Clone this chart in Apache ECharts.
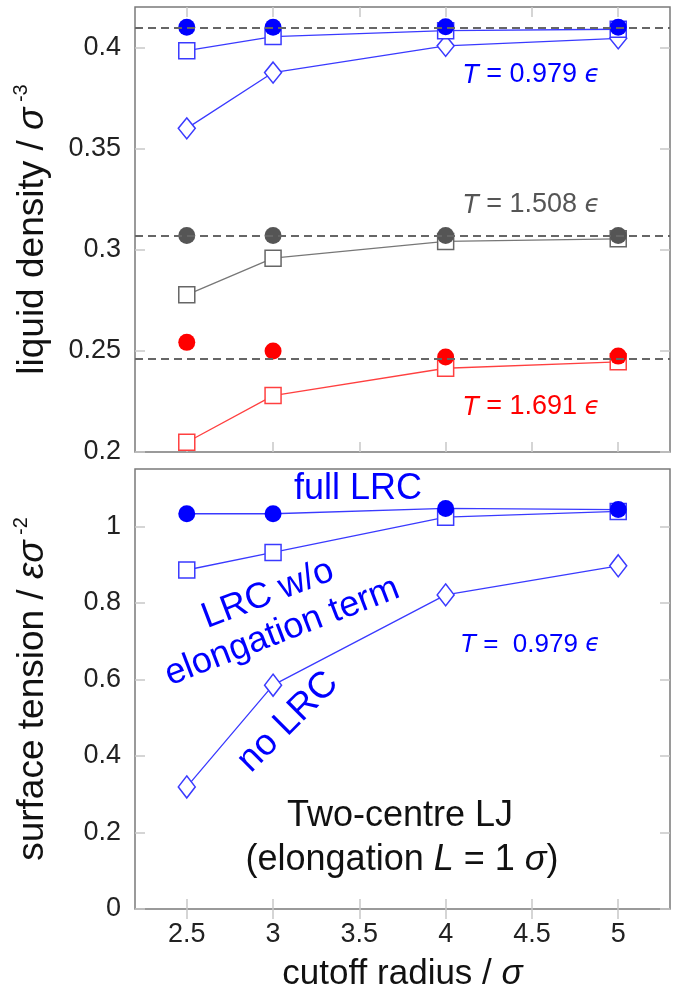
<!DOCTYPE html>
<html>
<head>
<meta charset="utf-8">
<script src="https://cdn.jsdelivr.net/npm/echarts@6/dist/echarts.min.js"></script>
<style>
html,body{margin:0;padding:0;background:#fff;}
#chart{width:673px;height:993px;}
</style>
</head>
<body>
<div id="chart"></div>
<script>
// ---- data ----
var cutoff = [2.5, 3, 4, 5];
var xTicks = [2.5, 3, 3.5, 4, 4.5, 5];
var densTicks = [0.2, 0.25, 0.3, 0.35, 0.4];
var stTicks = [0, 0.2, 0.4, 0.6, 0.8, 1];

// liquid density, T = 0.979
var densFull0979 = [0.410, 0.410, 0.4102, 0.4100];
var densNoElong0979 = [0.3984, 0.4054, 0.4083, 0.4090];
var densNoLRC0979 = [0.3600, 0.3876, 0.4008, 0.4045];
// T = 1.508
var densFull1508 = [0.307, 0.307, 0.307, 0.307];
var densNoElong1508 = [0.2777, 0.2958, 0.3041, 0.3054];
// T = 1.691
var densFull1691 = [0.2542, 0.2499, 0.2470, 0.2474];
var densNoElong1691 = [0.2048, 0.2279, 0.2414, 0.2446];
// reference (dashed) densities
var refDens = [0.4099, 0.3070, 0.2462];

// surface tension, T = 0.979
var stFull = [1.033, 1.033, 1.047, 1.044];
var stNoElong = [0.886, 0.932, 1.024, 1.039];
var stNoLRC = [0.319, 0.585, 0.821, 0.897];

function pairs(xs, ys){ return xs.map(function(x,i){ return [x, ys[i]]; }); }

var FONT = '"Liberation Sans", Arial, "DejaVu Sans", sans-serif';
var BLUE = '#0000ff', BLUE_L = '#3a3aff';
var GRAY = '#555555', GRAY_L = '#777777';
var RED = '#ff0000', RED_L = '#ff4040';

var tickStyle = {show:true, inside:true, length:10, lineStyle:{color:'#c8c8c8', width:1.5}};

function xAxisDef(grid, pos, showLabels, name){
  var a = {
    type:'value', gridIndex:grid, position:pos, min:2.2, max:5.3,
    axisLine:{show:false}, splitLine:{show:false},
    axisTick:Object.assign({customValues:xTicks}, tickStyle),
    axisLabel:{show:showLabels, customValues:xTicks, fontSize:27, color:'#222', margin:12, fontFamily:FONT}
  };
  if(name){
    a.name = name; a.nameLocation='middle'; a.nameGap = 48;
    a.nameTextStyle = {fontSize:35, color:'#111', fontFamily:FONT,
      rich:{n:{fontSize:35, fontFamily:FONT, color:'#111'}, i:{fontSize:35, fontStyle:'italic', fontFamily:FONT, color:'#111'}}};
  }
  return a;
}
function yAxisDef(grid, pos, min, max, ticks, showLabels, name, rich){
  var a = {
    type:'value', gridIndex:grid, position:pos, min:min, max:max,
    axisLine:{show:false}, splitLine:{show:false},
    axisTick:Object.assign({customValues:ticks}, tickStyle),
    axisLabel:{show:showLabels, customValues:ticks, fontSize:27, color:'#222', margin:14, fontFamily:FONT}
  };
  if(name){
    a.name = name; a.nameLocation='middle'; a.nameGap = 80;
    a.nameTextStyle = {fontSize:37, color:'#111', fontFamily:FONT, rich:rich};
  }
  return a;
}
var titleRich = {
  n:{fontSize:37, fontFamily:FONT, color:'#111', lineHeight:44},
  i:{fontSize:37, fontStyle:'italic', fontFamily:FONT, color:'#111', lineHeight:44},
  p:{fontSize:20, fontFamily:FONT, color:'#111', verticalAlign:'top', lineHeight:44}
};

function openSeries(name, xi, yi, data, sym, size, col, lineCol, z){
  return {
    name:name, type:'line', xAxisIndex:xi, yAxisIndex:yi, data:data,
    symbol:sym, symbolSize:size, showSymbol:true, z:z||2,
    lineStyle:{color:lineCol, width:1.3},
    itemStyle:{color:'#ffffff', borderColor:col, borderWidth:1.5},
    emphasis:{disabled:true}, animation:false
  };
}
function dotSeries(name, xi, yi, data, col, connected, lineCol){
  return {
    name:name, type:'line', xAxisIndex:xi, yAxisIndex:yi, data:data,
    symbol:'circle', symbolSize:17, showSymbol:true, z:4,
    lineStyle:{color:lineCol||col, width:connected?1.3:0, opacity:connected?1:0},
    itemStyle:{color:col, borderWidth:0},
    emphasis:{disabled:true}, animation:false
  };
}

var series = [];
// top panel: dashed reference lines
series.push({
  name:'ref', type:'line', xAxisIndex:0, yAxisIndex:0, data:[], z:3, animation:false,
  markLine:{silent:true, precision:4, symbol:['none','none'], label:{show:false},
    lineStyle:{color:'#666', type:[8,5], width:1.8},
    data: refDens.map(function(v){ return {yAxis:v}; })}
});
series.push(openSeries('noLRC0979', 0, 0, pairs(cutoff, densNoLRC0979), 'diamond', [17,21], BLUE_L, BLUE_L, 2));
series.push(openSeries('noElong0979', 0, 0, pairs(cutoff, densNoElong0979), 'rect', 16, BLUE_L, BLUE_L, 2));
series.push(openSeries('noElong1508', 0, 0, pairs(cutoff, densNoElong1508), 'rect', 16, '#666', GRAY_L, 2));
series.push(openSeries('noElong1691', 0, 0, pairs(cutoff, densNoElong1691), 'rect', 16, RED_L, RED_L, 2));
series.push(dotSeries('full0979', 0, 0, pairs(cutoff, densFull0979), BLUE, false));
series.push(dotSeries('full1508', 0, 0, pairs(cutoff, densFull1508), GRAY, false));
series.push(dotSeries('full1691', 0, 0, pairs(cutoff, densFull1691), RED, false));
// bottom panel
series.push(openSeries('stNoLRC', 2, 2, pairs(cutoff, stNoLRC), 'diamond', [17,22], BLUE_L, BLUE_L, 2));
series.push(openSeries('stNoElong', 2, 2, pairs(cutoff, stNoElong), 'rect', 16, BLUE_L, BLUE_L, 2));
series.push(dotSeries('stFull', 2, 2, pairs(cutoff, stFull), BLUE, true, BLUE_L));

function T(x, y, txt, col, size, extra){
  return Object.assign({
    type:'text', x:x, y:y, silent:true, z:10,
    style:{text:txt, fill:col, align:'center', verticalAlign:'middle', fontFamily:FONT, fontSize:size,
      rich:{
        it:{fontStyle:'italic', fontSize:size, fontFamily:FONT, fill:col},
        ep:{fontStyle:'italic', fontSize:size-2, fontFamily:'"DejaVu Sans", sans-serif', fill:col},
        n:{fontSize:size, fontFamily:FONT, fill:col}
      }}
  }, extra||{});
}

var option = {
  backgroundColor:'#ffffff',
  animation:false,
  grid:[
    {left:135, right:3, top:7, height:445, show:true, borderColor:'#7a7a7a', borderWidth:1.5, backgroundColor:'transparent'},
    {left:135, right:3, top:469, height:444, show:true, borderColor:'#7a7a7a', borderWidth:1.5, backgroundColor:'transparent'}
  ],
  xAxis:[
    xAxisDef(0, 'bottom', false),
    xAxisDef(0, 'top', false),
    xAxisDef(1, 'bottom', true, '{n|cutoff radius / }{i|σ}'),
    xAxisDef(1, 'top', false)
  ],
  yAxis:[
    yAxisDef(0, 'left', 0.2, 0.42, densTicks, true, '{n|liquid density / }{i|σ}{p| -3}', titleRich),
    yAxisDef(0, 'right', 0.2, 0.42, densTicks, false),
    yAxisDef(1, 'left', 0, 1.15, stTicks, true, '{n|surface tension / }{i|εσ}{p| -2}', titleRich),
    yAxisDef(1, 'right', 0, 1.15, stTicks, false)
  ],
  series: series,
  graphic:[
    T(531, 75, '{it|T} {n|= 0.979} {ep|ϵ}', BLUE, 27),
    T(531, 205, '{it|T} {n|= 1.508} {ep|ϵ}', '#555555', 27),
    T(531, 407, '{it|T} {n|= 1.691} {ep|ϵ}', RED, 27),
    T(530, 645, '{it|T} {n|=  0.979} {ep|ϵ}', BLUE, 26),
    T(358, 489, 'full LRC', BLUE, 36),
    T(0, 0, 'LRC w/o\nelongation term', BLUE, 36, {x:275, y:613, rotation:21*Math.PI/180, style:{text:'LRC w/o\nelongation term', fill:BLUE, align:'center', verticalAlign:'middle', fontFamily:FONT, fontSize:36, lineHeight:40}}),
    T(0, 0, 'no LRC', BLUE, 36, {x:288, y:722, rotation:45*Math.PI/180, style:{text:'no LRC', fill:BLUE, align:'center', verticalAlign:'middle', fontFamily:FONT, fontSize:37}}),
    T(400, 816, 'Two-centre LJ', '#111111', 36),
    T(0, 0, '', '#111', 36, {x:402, y:860, style:{text:'{n|(elongation }{it|L}{n| = 1 }{it|σ}{n|)}', fill:'#111', align:'center', verticalAlign:'middle', fontFamily:FONT, fontSize:36,
      rich:{n:{fontSize:36, fontFamily:FONT, fill:'#111'}, it:{fontSize:36, fontStyle:'italic', fontFamily:FONT, fill:'#111'}}}})
  ]
};

var chart = echarts.init(document.getElementById('chart'), null, {renderer:'canvas'});
chart.setOption(option);
</script>
</body>
</html>
